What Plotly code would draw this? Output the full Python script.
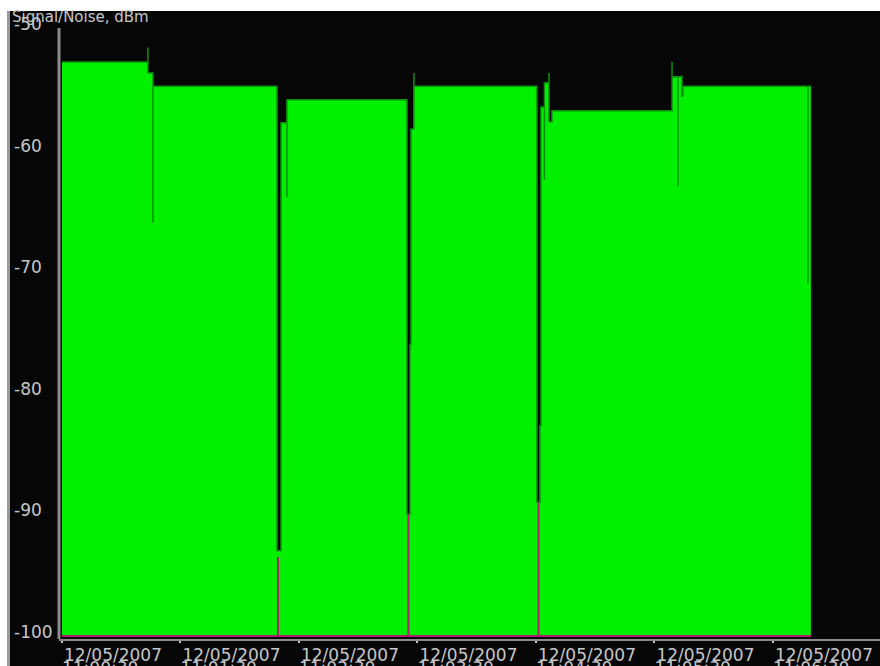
import plotly.graph_objects as go

# Measurement date and clock times of the samples
day = "2007-12-05"

# Signal level (dBm), sampled as step changes; repeated times draw momentary spikes
sig_time = [
    "11:00:30.0", "11:01:13.5", "11:01:13.5", "11:01:16.1", "11:01:16.1",
    "11:02:18.9", "11:02:20.9", "11:02:23.9", "11:02:23.9",
    "11:03:24.7", "11:03:26.2", "11:03:26.7", "11:03:28.2", "11:03:28.2",
    "11:04:30.5", "11:04:32.0", "11:04:32.5", "11:04:34.3", "11:04:34.3",
    "11:04:36.6", "11:04:36.6", "11:04:38.1",
    "11:05:38.9", "11:05:38.9", "11:05:41.9", "11:05:41.9", "11:05:43.9",
    "11:05:43.9", "11:05:44.4", "11:06:47.7", "11:06:47.7", "11:06:49.2",
]
sig_dbm = [
    -52.8, -51.6, -53.7, -66.0, -54.8,
    -93.0, -57.8, -63.9, -55.9,
    -90.0, -76.0, -58.3, -53.7, -54.8,
    -89.0, -82.7, -56.5, -62.5, -54.5,
    -53.7, -57.7, -56.8,
    -52.8, -54.0, -63.0, -54.0, -53.9,
    -55.6, -54.8, -71.0, -54.8, -54.8,
]

# Noise level (dBm), at the floor except where the signal drops out
noise_time = [
    "11:00:30.0", "11:02:19.4", "11:02:19.4", "11:02:19.4",
    "11:03:25.4", "11:03:25.4", "11:03:25.4",
    "11:04:31.3", "11:04:31.3", "11:04:31.3", "11:06:49.2",
]
noise_dbm = [-100, -100, -93.5, -100, -100, -90, -100, -100, -89, -100, -100]

# Axis ticks
y_ticks = [-50, -60, -70, -80, -90, -100]
y_tick_text = ["-50", "-60", "-70", "-80", "-90", "-100"]
x_tick_clock = ["11:00:30", "11:01:30", "11:02:30", "11:03:30",
                "11:04:30", "11:05:30", "11:06:30"]
x_tick_date = ["12/05/2007"] * len(x_tick_clock)
x_range = ["11:00:28.5", "11:07:24.2"]
y_range = [-100.25, -50]


def stamp(t):
    return f"{day} {t}"


sig_x = [stamp(t) for t in sig_time]
noise_x = [stamp(t) for t in noise_time]
tick_x = [stamp(t) for t in x_tick_clock]
rng_x = [stamp(t) for t in x_range]

W, H = 880, 666
ML, MR, MT, MB = 10, 0, 28, 27
PW, PH = W - ML - MR, H - MT - MB


def px(xp):
    return (xp - ML) / PW


def py(yp):
    return 1 - (yp - MT) / PH


BG = "#060606"
TXT = "#c6c6c6"
AXIS = "#8c8c8c"
FONT = dict(family="DejaVu Sans", size=17, color=TXT)

fig = go.Figure()

# floor the signal area is filled down to
fig.add_trace(go.Scatter(
    x=[sig_x[0], sig_x[-1]], y=[-100, -100],
    mode="lines", line=dict(width=0), hoverinfo="skip", showlegend=False,
))
fig.add_trace(go.Scatter(
    x=sig_x, y=sig_dbm, mode="lines", line_shape="hv",
    line=dict(color="#0d8f0d", width=1.5),
    fill="tonexty", fillcolor="#00f000",
    name="Signal", showlegend=False,
))
fig.add_trace(go.Scatter(
    x=noise_x, y=noise_dbm, mode="lines", line_shape="hv",
    line=dict(color="#b0206e", width=2),
    xaxis="x2", name="Noise", showlegend=False,
))

fig.update_layout(
    width=W, height=H,
    margin=dict(l=ML, r=MR, t=MT, b=MB, pad=0, autoexpand=False),
    paper_bgcolor=BG, plot_bgcolor=BG,
    font=FONT,
    title=dict(text="Signal/Noise, dBm", x=12 / W, xanchor="left",
               xref="container", y=1 - 17 / H, yref="container",
               yanchor="middle", font=dict(FONT, size=15)),
    xaxis=dict(
        type="date", domain=[px(59), 1], range=rng_x, automargin=False,
        tickmode="array", tickvals=tick_x, ticktext=x_tick_date,
        ticklabelposition="outside right", ticklabeloverflow="allow",
        ticks="outside", ticklen=2, tickwidth=2, tickcolor=TXT,
        showline=True, linecolor=AXIS, linewidth=2,
        showgrid=False, zeroline=False, tickfont=FONT,
    ),
    xaxis2=dict(
        type="date", overlaying="x", matches="x", anchor="y", side="bottom",
        range=rng_x, automargin=False,
        tickmode="array", tickvals=tick_x, ticktext=x_tick_clock,
        ticklabelposition="outside right", ticklabeloverflow="allow",
        ticklabelstandoff=17,
        ticks="", showline=False, showgrid=False, zeroline=False,
        tickfont=FONT,
    ),
    yaxis=dict(
        range=y_range, anchor="free", position=0, automargin=False,
        tickmode="array", tickvals=y_ticks, ticktext=y_tick_text,
        ticklabelposition="inside", ticklabeloverflow="allow",
        ticklabelshift=-4,
        ticks="", showline=False, showgrid=False, zeroline=False,
        tickfont=FONT,
    ),
    shapes=[
        # y axis line at the left of the plotting area
        dict(type="line", xref="x domain", yref="y domain",
             x0=0, x1=0, y0=0, y1=1, line=dict(color=AXIS, width=3)),
        # grey frame edge and white page strips around the chart panel
        dict(type="rect", xref="paper", yref="paper",
             x0=px(7), x1=px(10), y0=py(H), y1=py(11),
             line=dict(width=0), fillcolor="#9a9a9a", layer="above"),
        dict(type="rect", xref="paper", yref="paper",
             x0=px(0), x1=px(7), y0=py(H), y1=py(0),
             line=dict(width=0), fillcolor="white", layer="above"),
        dict(type="rect", xref="paper", yref="paper",
             x0=px(0), x1=px(W), y0=py(11), y1=py(0),
             line=dict(width=0), fillcolor="white", layer="above"),
    ],
)

fig.write_html("out.html")
